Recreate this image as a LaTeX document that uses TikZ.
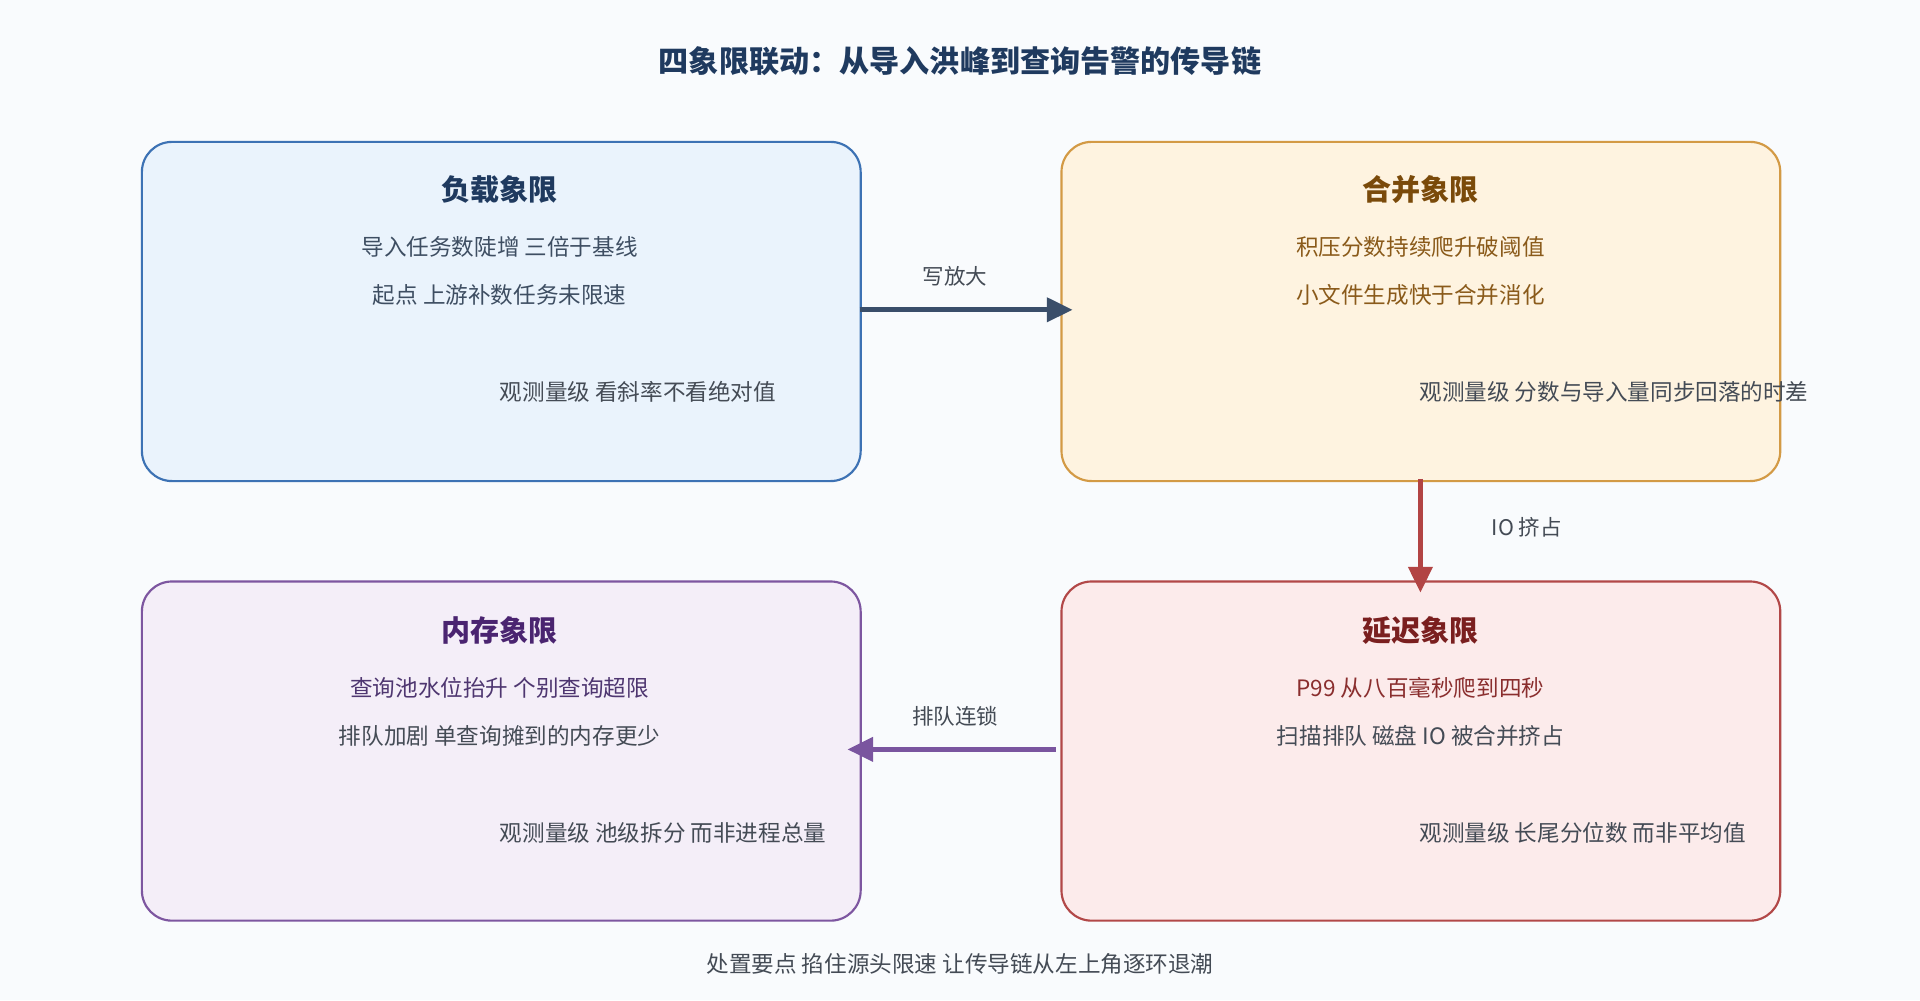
\documentclass[tikz,border=0pt]{standalone}
\usepackage{fontspec}
\setmainfont{Noto Sans CJK SC}
\usetikzlibrary{arrows.meta}
\definecolor{bg}{HTML}{F9FBFD}
\definecolor{bfill}{HTML}{EAF3FC}\definecolor{bdraw}{HTML}{3D72B4}\definecolor{btit}{HTML}{1F3A5F}\definecolor{btxt}{HTML}{3E4E62}
\definecolor{ofill}{HTML}{FEF3E0}\definecolor{odraw}{HTML}{D39A45}\definecolor{otit}{HTML}{7A4A0A}\definecolor{otxt}{HTML}{8A5A1A}
\definecolor{pfill}{HTML}{F4EEF8}\definecolor{pdraw}{HTML}{7D56A0}\definecolor{ptit}{HTML}{4A2470}\definecolor{ptxt}{HTML}{4E3670}
\definecolor{rfill}{HTML}{FCEBEB}\definecolor{rdraw}{HTML}{B24848}\definecolor{rtit}{HTML}{7A1F1F}\definecolor{rtxt}{HTML}{8A2E2E}
\definecolor{gtxt}{HTML}{444B55}
\definecolor{ablue}{HTML}{3A4E6A}\definecolor{ared}{HTML}{B24444}\definecolor{apur}{HTML}{7A559F}
\begin{document}
\begin{tikzpicture}[x=0.02cm,y=-0.02cm,
 box/.style={draw,line width=1pt,rounded corners=14pt,minimum width=587*0.02cm,minimum height=277*0.02cm,anchor=north west,inner sep=0},
 tit/.style={font=\fontsize{13.5}{16}\selectfont\bfseries},
 txt/.style={font=\fontsize{10.5}{13}\selectfont},
 note/.style={font=\fontsize{10.5}{13}\selectfont,anchor=west,text=gtxt},
 lab/.style={font=\fontsize{10}{12}\selectfont,text=gtxt},
 arr/.style={line width=2.4pt,-{Triangle[length=12pt,width=11pt]}}]
\fill[bg] (0,0) rectangle (1568,817);
\useasboundingbox (0,0) rectangle (1568,817);
\node[font=\fontsize{14}{17}\selectfont\bfseries,text=btit] (title) at (784,50) {四象限联动：从导入洪峰到查询告警的传导链};
% boxes
\node[box,draw=bdraw,fill=bfill] (A) at (115,115) {};
\node[box,draw=odraw,fill=ofill] (B) at (866,115) {};
\node[box,draw=pdraw,fill=pfill] (C) at (115,474) {};
\node[box,draw=rdraw,fill=rfill] (D) at (866,474) {};
% A
\node[tit,text=btit] (a1) at (408,155) {负载象限};
\node[txt,text=btxt] (a2) at (408,202) {导入任务数陡增 三倍于基线};
\node[txt,text=btxt] (a3) at (408,241) {起点 上游补数任务未限速};
\node[note] (a4) at (402,320) {观测量级 看斜率不看绝对值};
% B
\node[tit,text=otit] (b1) at (1160,155) {合并象限};
\node[txt,text=otxt] (b2) at (1160,202) {积压分数持续爬升破阈值};
\node[txt,text=otxt] (b3) at (1160,241) {小文件生成快于合并消化};
\node[note] (b4) at (1153,320) {观测量级 分数与导入量同步回落的时差};
% C
\node[tit,text=ptit] (c1) at (408,515) {内存象限};
\node[txt,text=ptxt] (c2) at (408,562) {查询池水位抬升 个别查询超限};
\node[txt,text=gtxt] (c3) at (408,601) {排队加剧 单查询摊到的内存更少};
\node[note] (c4) at (402,680) {观测量级 池级拆分 而非进程总量};
% D
\node[tit,text=rtit] (d1) at (1160,515) {延迟象限};
\node[txt,text=rtxt] (d2) at (1160,562) {P99 从八百毫秒爬到四秒};
\node[txt,text=gtxt] (d3) at (1160,601) {扫描排队 磁盘 IO 被合并挤占};
\node[note] (d4) at (1153,680) {观测量级 长尾分位数 而非平均值};
% arrows
\coordinate (p1) at (702,253); \coordinate (p2) at (876,253);
\draw[arr,ablue] (p1) -- (p2);
\node[lab] (l1) at (780,226) {写放大};
\coordinate (q1) at (1160,391); \coordinate (q2) at (1160,484);
\draw[arr,ared] (q1) -- (q2);
\node[lab] (l2) at (1247,431) {IO 挤占};
\coordinate (r1) at (862,612); \coordinate (r2) at (692,612);
\draw[arr,apur] (r1) -- (r2);
\node[lab] (l3) at (780,585) {排队连锁};
\node[lab,font=\fontsize{10.5}{13}\selectfont] (foot) at (784,787) {处置要点 掐住源头限速 让传导链从左上角逐环退潮};
\end{tikzpicture}
\end{document}
